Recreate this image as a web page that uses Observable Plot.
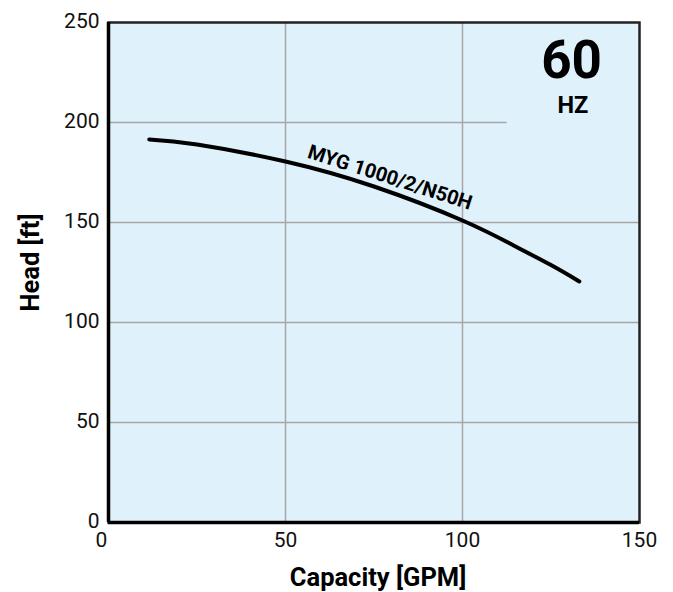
<!DOCTYPE html>
<html>
<head>
<meta charset="utf-8">
<script src="https://cdn.jsdelivr.net/npm/d3@7"></script>
<script src="https://cdn.jsdelivr.net/npm/@observablehq/plot@0.6"></script>
<style>
  body { margin: 0; background: #fff; }
  #chart svg { display: block; }
</style>
</head>
<body>
<div id="chart"></div>
<script>
const capacity = [11.5, 25, 50, 75, 100, 115, 125, 133];
const head = [191.5, 189, 180.5, 168, 151, 138, 128.7, 120.5];
const xTicks = [50, 100, 150];
const yTicks = [0, 50, 100, 150, 200, 250];
const curveLabel = "MYG 1000/2/N50H";

const pts = capacity.map((q, i) => ({q, h: head[i]}));
const font = "Roboto, 'Noto Sans', sans-serif";

const chart = Plot.plot({
  width: 673,
  height: 592,
  marginLeft: 108,
  marginRight: 34,
  marginTop: 22,
  marginBottom: 70,
  style: {fontFamily: font, background: "#fff"},
  x: {domain: [0, 150], label: null},
  y: {domain: [0, 250], label: null},
  marks: [
    Plot.frame({fill: "#dff1fb", stroke: null}),
    Plot.gridX([50, 100], {stroke: "#a6a6a6", strokeOpacity: 1, strokeWidth: 1.5}),
    Plot.gridY([50, 100, 150], {stroke: "#a6a6a6", strokeOpacity: 1, strokeWidth: 1.5}),
    Plot.ruleY([200], {x1: 0, x2: 112.6, stroke: "#a6a6a6", strokeWidth: 1.5}),
    Plot.line(pts, {x: "q", y: "h", curve: "natural", stroke: "#000", strokeWidth: 4}),
    Plot.text([curveLabel], {x: 79.5, y: 172.5, text: d => d, rotate: 17.8, fontSize: 20, fontWeight: "bold", fill: "#000"}),
    Plot.text(["60"], {x: 130.8, y: 222.5, text: d => d, lineAnchor: "bottom", fontSize: 53, fontWeight: "bold", fill: "#000"}),
    Plot.text(["HZ"], {x: 131.2, y: 205, text: d => d, lineAnchor: "bottom", fontSize: 23.5, fontWeight: "bold", fill: "#000"}),
    Plot.frame({stroke: "#222", strokeWidth: 2.5, fill: "none"}),
    Plot.ruleX([0], {stroke: "#000", strokeWidth: 3.5}),
    Plot.ruleY([0], {stroke: "#000", strokeWidth: 3.5}),
    Plot.axisX(xTicks, {tickSize: 0, tickPadding: 10, fontSize: 21, fill: "#111", label: null}),
    Plot.axisX([0], {tickSize: 0, tickPadding: 10, fontSize: 21, fill: "#111", dx: -7, label: null}),
    Plot.axisY(yTicks, {tickSize: 0, tickPadding: 9, fontSize: 21, fill: "#111", dy: -1.5, label: null}),
    Plot.text(["Capacity [GPM]"], {frameAnchor: "bottom", dy: 63, dx: 4, text: d => d, fontSize: 25.5, fontWeight: "bold", fill: "#000"}),
    Plot.text(["Head [ft]"], {frameAnchor: "left", textAnchor: "middle", dx: -78, dy: -10, rotate: -90, text: d => d, fontSize: 25.5, fontWeight: "bold", fill: "#000"})
  ]
});
document.getElementById("chart").appendChild(chart);
</script>
</body>
</html>
